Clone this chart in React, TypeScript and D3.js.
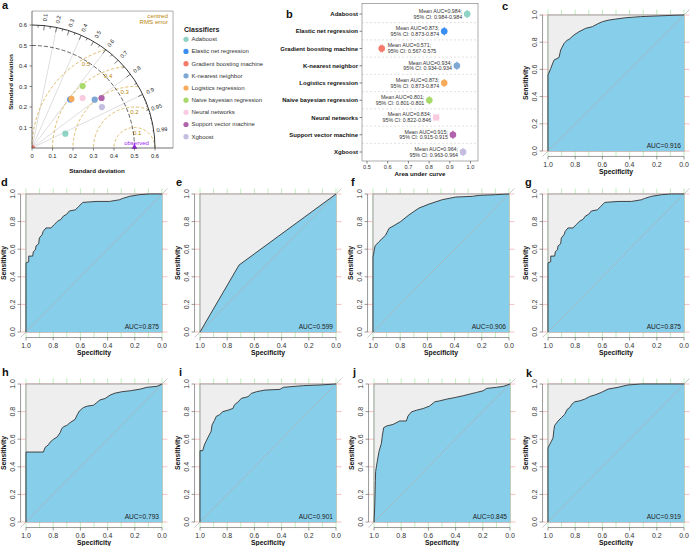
import React from "react";
import * as d3 from "d3";

const FONT = "'Liberation Sans', Arial, Helvetica, sans-serif";

// ---- panel a / b data ----
const classifiers = [
  "Adaboost",
  "Elastic net regression",
  "Gradient boosting machine",
  "K-nearest neighbor",
  "Logistics regression",
  "Naive bayesian regression",
  "Neural networks",
  "Support vector machine",
  "Xgboost",
];
const classifierColors = [
  "#8fd3c4", "#3a8ef2", "#f47a6c", "#7ea7d3", "#f6ac5c",
  "#a8d96c", "#f8cbe1", "#b062ab", "#c4bde0",
];
// Taylor diagram: standard deviation and correlation of each model
const taylorSd = [0.177, 0.302, 0.0, 0.386, 0.307, 0.39, 0.347, 0.418, 0.395];
const taylorCorr = [0.919, 0.619, 0.707, 0.792, 0.626, 0.633, 0.711, 0.812, 0.863];
const obsSd = 0.5;
const sdTicks = [0, 0.1, 0.2, 0.3, 0.4, 0.5, 0.6];
const corrLabels = [0.1, 0.2, 0.3, 0.4, 0.5, 0.6, 0.7, 0.8, 0.9, 0.95, 0.99];
const corrLines = [0.2, 0.4, 0.6, 0.8, 0.9];
const rmsLevels = [0.1, 0.2, 0.3, 0.4, 0.5];

// forest plot of mean AUC
const meanAuc = [0.984, 0.873, 0.571, 0.934, 0.873, 0.801, 0.834, 0.915, 0.964];
const ciLow = [0.984, 0.873, 0.567, 0.934, 0.873, 0.801, 0.822, 0.915, 0.963];
const ciHigh = [0.984, 0.874, 0.575, 0.934, 0.874, 0.801, 0.846, 0.915, 0.964];
const aucTicks = [0.5, 0.6, 0.7, 0.8, 0.9, 1.0];

// ---- ROC curves, [specificity, sensitivity] ----
const rocC = [
  [1, 0], [1, 0.558], [0.98, 0.607], [0.956, 0.668], [0.919, 0.688], [0.907, 0.742],
  [0.882, 0.791], [0.858, 0.816], [0.846, 0.82], [0.809, 0.853], [0.772, 0.877],
  [0.723, 0.902], [0.674, 0.914], [0.637, 0.934], [0.6, 0.951], [0.551, 0.963],
  [0.502, 0.97], [0.429, 0.98], [0.319, 0.988], [0.196, 0.993], [0.074, 0.998], [0, 1],
];
const rocD = [
  [1, 0], [1, 0.501], [0.98, 0.509], [0.98, 0.55], [0.951, 0.55], [0.946, 0.582],
  [0.931, 0.595], [0.926, 0.624], [0.907, 0.639], [0.902, 0.681], [0.882, 0.705],
  [0.873, 0.73], [0.853, 0.754], [0.816, 0.754], [0.792, 0.779], [0.767, 0.803],
  [0.743, 0.816], [0.725, 0.84], [0.701, 0.853], [0.681, 0.877], [0.637, 0.885],
  [0.613, 0.909], [0.583, 0.939], [0.485, 0.946], [0.387, 0.946], [0.314, 0.958],
  [0.289, 0.968], [0.24, 0.983], [0.167, 0.995], [0.093, 1], [0, 1],
];
const rocE = [[1, 0], [0.713, 0.485], [0, 1]];
const rocF = [
  [1, 0], [1, 0.544], [0.985, 0.624], [0.956, 0.654], [0.907, 0.702], [0.882, 0.751],
  [0.846, 0.771], [0.797, 0.8], [0.735, 0.849], [0.662, 0.898], [0.588, 0.927],
  [0.49, 0.959], [0.392, 0.978], [0.27, 0.983], [0.22, 0.99], [0.098, 0.995], [0, 1],
];
const rocG = rocD;
const rocH = [
  [1, 0], [1, 0.507], [0.872, 0.507], [0.86, 0.54], [0.835, 0.56], [0.823, 0.578],
  [0.8, 0.598], [0.77, 0.617], [0.75, 0.646], [0.737, 0.676], [0.725, 0.69], [0.7, 0.7],
  [0.676, 0.72], [0.639, 0.744], [0.622, 0.78], [0.607, 0.805], [0.577, 0.83],
  [0.548, 0.84], [0.504, 0.846], [0.479, 0.866], [0.455, 0.885], [0.418, 0.895],
  [0.381, 0.92], [0.344, 0.934], [0.295, 0.944], [0.233, 0.951], [0.16, 0.963],
  [0.111, 0.976], [0.037, 0.983], [0, 1],
];
const rocI = [
  [1, 0], [1, 0.517], [0.98, 0.517], [0.968, 0.558], [0.956, 0.583], [0.936, 0.624],
  [0.919, 0.655], [0.911, 0.704], [0.894, 0.735], [0.881, 0.765], [0.857, 0.777],
  [0.832, 0.8], [0.795, 0.81], [0.758, 0.823], [0.746, 0.85], [0.72, 0.87],
  [0.696, 0.896], [0.647, 0.908], [0.622, 0.932], [0.585, 0.944], [0.523, 0.956],
  [0.412, 0.961], [0.388, 0.976], [0.24, 0.988], [0.116, 0.993], [0, 1],
];
const rocJ = [
  [1, 0], [0.995, 0.1], [0.99, 0.3], [0.988, 0.366], [0.978, 0.427], [0.963, 0.512],
  [0.946, 0.568], [0.939, 0.622], [0.929, 0.683], [0.909, 0.695], [0.86, 0.707],
  [0.811, 0.732], [0.762, 0.732], [0.75, 0.768], [0.725, 0.798], [0.688, 0.81],
  [0.639, 0.822], [0.59, 0.841], [0.553, 0.871], [0.516, 0.878], [0.467, 0.89],
  [0.405, 0.902], [0.344, 0.915], [0.295, 0.927], [0.246, 0.939], [0.197, 0.951],
  [0.172, 0.968], [0.098, 0.976], [0.049, 0.983], [0, 1],
];
const rocK = [
  [1, 0], [1, 0.537], [0.988, 0.561], [0.975, 0.585], [0.963, 0.61], [0.956, 0.671],
  [0.951, 0.7], [0.926, 0.732], [0.902, 0.756], [0.877, 0.78], [0.858, 0.817],
  [0.841, 0.829], [0.824, 0.854], [0.804, 0.871], [0.767, 0.878], [0.73, 0.89],
  [0.694, 0.909], [0.657, 0.92], [0.608, 0.939], [0.559, 0.963], [0.485, 0.976],
  [0.412, 0.993], [0.314, 1], [0, 1],
];
const rocAuc = ["0.916", "0.875", "0.599", "0.906", "0.875", "0.793", "0.901", "0.845", "0.919"];

const rocPanels = [
  { letter: "c", points: rocC, left: 548, top: 15, h: 136, lx: 502, ly: 10 },
  { letter: "d", points: rocD, left: 26, top: 194, h: 138, lx: 1, ly: 186 },
  { letter: "e", points: rocE, left: 200, top: 194, h: 138, lx: 176, ly: 186 },
  { letter: "f", points: rocF, left: 373, top: 194, h: 138, lx: 351, ly: 186 },
  { letter: "g", points: rocG, left: 548, top: 194, h: 138, lx: 525, ly: 186 },
  { letter: "h", points: rocH, left: 26, top: 384, h: 138, lx: 2, ly: 376 },
  { letter: "i", points: rocI, left: 200, top: 384, h: 138, lx: 179, ly: 376 },
  { letter: "j", points: rocJ, left: 374, top: 384, h: 138, lx: 353, ly: 376 },
  { letter: "k", points: rocK, left: 548, top: 384, h: 138, lx: 526, ly: 377 },
];

function Letter({ x, y, t }) {
  return (
    <text x={x} y={y} fontSize={11} fontWeight="bold" fill="#111">{t}</text>
  );
}

function RocPanel({ points, auc, letter, left, top, h, lx, ly }) {
  const w = 136;
  const x = d3.scaleLinear().domain([1, 0]).range([left, left + w]);
  const y = d3.scaleLinear().domain([0, 1]).range([top + h, top]);
  const line = d3.line().x((d) => x(d[0])).y((d) => y(d[1]));
  const x0 = x(1.04), x1 = x(-0.04), y0 = y(-0.04), y1 = y(1.04);
  const fmt = d3.format(".1f");
  return (
    <g>
      {x.ticks(10).map((t) => (
        <line key={"v" + t} x1={x(t)} x2={x(t)} y1={y0} y2={y1} stroke="#a4e6a4" strokeWidth={0.7} />
      ))}
      {y.ticks(5).map((t) => (
        <line key={"h" + t} x1={x0} x2={x1} y1={y(t)} y2={y(t)} stroke="#f3a8a8" strokeWidth={0.7} />
      ))}
      <rect x={x(1)} y={y(1)} width={x(0) - x(1)} height={y(0) - y(1)} fill="#eeeeee" stroke="#8c8c8c" strokeWidth={0.8} />
      <path d={line([...points, [0, 0]]) + "Z"} fill="#87ceeb" />
      <line x1={x0} y1={y0} x2={x1} y2={y1} stroke="#b0b0b0" strokeWidth={0.7} />
      <path d={line(points)} fill="none" stroke="#333" strokeWidth={0.9} />
      {/* axes */}
      <line x1={x0} x2={x0} y1={y(0)} y2={y(1)} stroke="#555" strokeWidth={0.6} />
      {y.ticks(5).map((t) => (
        <g key={"yt" + t}>
          <line x1={x0} x2={x0 - 3} y1={y(t)} y2={y(t)} stroke="#555" strokeWidth={0.6} />
          <text x={x0 - 8} y={y(t)} transform={`rotate(-90 ${x0 - 8} ${y(t)})`} textAnchor="middle" dominantBaseline="central" fontSize={7} fill="#333">{fmt(t)}</text>
        </g>
      ))}
      <line x1={x(1)} x2={x(0)} y1={y0} y2={y0} stroke="#555" strokeWidth={0.6} />
      {x.ticks(5).map((t) => (
        <g key={"xt" + t}>
          <line x1={x(t)} x2={x(t)} y1={y0} y2={y0 + 3} stroke="#555" strokeWidth={0.6} />
          <text x={x(t)} y={y0 + 8.3} textAnchor="middle" dominantBaseline="central" fontSize={7} fill="#333">{fmt(t)}</text>
        </g>
      ))}
      <text x={left - 22.5} y={top + h / 2} transform={`rotate(-90 ${left - 22.5} ${top + h / 2})`} textAnchor="middle" dominantBaseline="central" fontSize={6.8} fontWeight="bold" fill="#111">Sensitivity</text>
      <text x={left + w / 2} y={top + h + 20} textAnchor="middle" dominantBaseline="central" fontSize={6.8} fontWeight="bold" fill="#111">Specificity</text>
      <text x={left + w - 3} y={top + h - 3.5} textAnchor="end" fontSize={6.6} fill="#222">AUC={auc}</text>
      <Letter x={lx} y={ly} t={letter} />
    </g>
  );
}

function TaylorPanel() {
  const ox = 32, oy = 148;
  const s = d3.scaleLinear().domain([0, 0.6]).range([0, 123]);
  const P = (sx, sy) => [ox + s(sx), oy - s(sy)];
  const arc = (r) => {
    const p = d3.path();
    p.moveTo(ox, oy - s(r));
    p.arc(ox, oy, s(r), -Math.PI / 2, 0);
    return p.toString();
  };
  const rmsLine = d3.line().x((d) => P(d[0], d[1])[0]).y((d) => P(d[0], d[1])[1]);
  const rmsPath = (r) => {
    const pts = d3.range(0, 180.01, 0.5)
      .map((a) => [obsSd + r * Math.cos((a * Math.PI) / 180), r * Math.sin((a * Math.PI) / 180)])
      .filter((d) => Math.hypot(d[0], d[1]) <= 0.6001);
    return rmsLine(pts);
  };
  const right = ox + s(0.688), topY = oy - s(0.668);
  const gold = "#b8860b";
  const tick = (c, inner) => {
    const a = Math.acos(c);
    const [xa, ya] = P(0.6 * Math.cos(a), 0.6 * Math.sin(a));
    const [xb, yb] = P(inner * Math.cos(a), inner * Math.sin(a));
    return <line key={"tk" + c + inner} x1={xa} y1={ya} x2={xb} y2={yb} stroke="#222" strokeWidth={0.6} />;
  };
  return (
    <g>
      <defs>
        <clipPath id="taylorClip">
          <rect x={ox} y={topY} width={right - ox} height={oy - topY} />
        </clipPath>
      </defs>
      <Letter x={2} y={9} t="a" />
      <line x1={ox} x2={right} y1={topY} y2={topY} stroke="#9a9a9a" strokeWidth={0.8} />
      <line x1={right} x2={right} y1={topY} y2={oy} stroke="#9a9a9a" strokeWidth={0.8} />
      {corrLines.map((c) => {
        const a = Math.acos(c);
        const [xe, ye] = P(0.6 * Math.cos(a), 0.6 * Math.sin(a));
        return <line key={"cl" + c} x1={ox} y1={oy} x2={xe} y2={ye} stroke="#c8c8c8" strokeWidth={0.6} />;
      })}
      {rmsLevels.map((r) => (
        <path key={"rms" + r} d={rmsPath(r)} fill="none" stroke="#d2a33a" strokeWidth={0.8} strokeDasharray="3,2" />
      ))}
      {rmsLevels.map((r) => {
        const a = ((80 + (r - 0.1) * 100) * Math.PI) / 180;
        const [tx, ty] = P(obsSd + (r - 0.025) * Math.cos(a), (r - 0.025) * Math.sin(a));
        return <text key={"rl" + r} x={tx} y={ty} textAnchor="middle" dominantBaseline="central" fontSize={6} fill={gold}>{r.toFixed(1)}</text>;
      })}
      <path d={arc(obsSd)} fill="none" stroke="#222" strokeWidth={0.7} strokeDasharray="4,2" />
      <path d={arc(0.6)} fill="none" stroke="#222" strokeWidth={0.9} />
      {d3.range(1, 10).map((i) => tick(i / 10, 0.576))}
      {d3.range(0, 10).map((i) => tick(0.05 + i / 10, 0.588))}
      {d3.range(1, 10).map((i) => tick(0.9 + i / 100, 0.594))}
      {corrLabels.map((c) => {
        const a = Math.acos(c);
        const [tx, ty] = P(0.64 * Math.cos(a), 0.64 * Math.sin(a));
        const deg = (a * 180) / Math.PI;
        return <text key={"cx" + c} x={tx} y={ty} transform={`rotate(${-deg} ${tx} ${ty})`} textAnchor="middle" dominantBaseline="central" fontSize={5.6} fill="#222">{c}</text>;
      })}
      {/* observed */}
      <path d={d3.symbol(d3.symbolTriangle, 14)()} transform={`translate(${P(obsSd, 0)[0]},${oy - 1})`} fill="#a020f0" />
      <text x={P(obsSd, 0)[0] + 2} y={143.3} textAnchor="middle" dominantBaseline="central" fontSize={6} fill="#a020f0">observed</text>
      <g clipPath="url(#taylorClip)">
        {classifiers.map((c, i) => {
          const a = Math.acos(taylorCorr[i]);
          const [px, py] = P(taylorSd[i] * Math.cos(a), taylorSd[i] * Math.sin(a));
          return <circle key={"tp" + c} cx={px} cy={py} r={3.1} fill={classifierColors[i]} />;
        })}
      </g>
      {/* axes */}
      <line x1={ox} x2={ox} y1={oy} y2={topY} stroke="#333" strokeWidth={0.7} />
      <line x1={ox} x2={right} y1={oy} y2={oy} stroke="#333" strokeWidth={0.7} />
      {sdTicks.map((t) => (
        <g key={"sx" + t}>
          <line x1={ox + s(t)} x2={ox + s(t)} y1={oy} y2={oy + 2.5} stroke="#333" strokeWidth={0.6} />
          <text x={ox + s(t)} y={oy + 7.5} textAnchor="middle" dominantBaseline="central" fontSize={5.8} fill="#222">{t === 0 ? "0" : t.toFixed(1)}</text>
        </g>
      ))}
      {sdTicks.filter((t) => t > 0).map((t) => (
        <g key={"sy" + t}>
          <line x1={ox} x2={ox - 2.5} y1={oy - s(t)} y2={oy - s(t)} stroke="#333" strokeWidth={0.6} />
          <text x={ox - 5} y={oy - s(t)} textAnchor="end" dominantBaseline="central" fontSize={5.8} fill="#222">{t.toFixed(1)}</text>
        </g>
      ))}
      <text x={10} y={82} transform="rotate(-90 10 82)" textAnchor="middle" dominantBaseline="central" fontSize={6.2} fontWeight="bold" fill="#111">Standard deviation</text>
      <text x={97} y={170.5} textAnchor="middle" dominantBaseline="central" fontSize={6.2} fontWeight="bold" fill="#111">Standard deviation</text>
      <text x={168} y={15} textAnchor="end" dominantBaseline="central" fontSize={6.2} fill={gold}>centred</text>
      <text x={168} y={21.7} textAnchor="end" dominantBaseline="central" fontSize={6.2} fill={gold}>RMS error</text>
      {/* legend */}
      <text x={184} y={29.3} dominantBaseline="central" fontSize={7} fontWeight="bold" fill="#222">Classifiers</text>
      {classifiers.map((c, i) => (
        <g key={"lg" + c}>
          <circle cx={186} cy={39.3 + i * 12.17} r={2.6} fill={classifierColors[i]} />
          <text x={191.5} y={39.3 + i * 12.17} dominantBaseline="central" fontSize={6} fill="#333">{c}</text>
        </g>
      ))}
    </g>
  );
}

function ForestPanel() {
  const x = d3.scaleLinear().domain([0.4758, 1.0362]).range([362, 478]);
  const y = d3.scalePoint().domain(classifiers).range([14, 152]);
  const top = 3.5, bottom = 161;
  const step = y.step();
  return (
    <g>
      <Letter x={286} y={18} t="b" />
      {classifiers.slice(1).map((c) => (
        <line key={"sep" + c} x1={362} x2={478} y1={y(c) - step / 2} y2={y(c) - step / 2} stroke="#cfcfcf" strokeWidth={0.6} strokeDasharray="2,2" />
      ))}
      <rect x={362} y={top} width={116} height={bottom - top} fill="none" stroke="#9a9a9a" strokeWidth={0.8} />
      {classifiers.map((c, i) => {
        const cy = y(c);
        const cx = x(meanAuc[i]);
        const left = x(meanAuc[i]) - 55 < 362;
        const tx = left ? cx + 6 : cx - 5;
        const anchor = left ? "start" : "end";
        return (
          <g key={"fr" + c}>
            <line x1={359.5} x2={362} y1={cy} y2={cy} stroke="#333" strokeWidth={0.6} />
            <text x={358} y={cy} textAnchor="end" dominantBaseline="central" fontSize={6} fontWeight="bold" fill="#111">{c}</text>
            <line x1={x(ciLow[i])} x2={x(ciHigh[i])} y1={cy} y2={cy} stroke={classifierColors[i]} strokeWidth={0.8} />
            <line x1={x(ciLow[i])} x2={x(ciLow[i])} y1={cy - 4} y2={cy + 4} stroke={classifierColors[i]} strokeWidth={0.8} />
            <line x1={x(ciHigh[i])} x2={x(ciHigh[i])} y1={cy - 4} y2={cy + 4} stroke={classifierColors[i]} strokeWidth={0.8} />
            <circle cx={cx} cy={cy} r={3.3} fill={classifierColors[i]} />
            <text x={tx} y={cy - 3.2} textAnchor={anchor} dominantBaseline="central" fontSize={5.3} fill="#333">{`Mean AUC=${meanAuc[i].toFixed(3)};`}</text>
            <text x={tx} y={cy + 2.5} textAnchor={anchor} dominantBaseline="central" fontSize={5.3} fill="#333">{`95% CI: ${ciLow[i].toFixed(3)}-${ciHigh[i].toFixed(3)}`}</text>
          </g>
        );
      })}
      {aucTicks.map((t) => (
        <g key={"ax" + t}>
          <line x1={x(t)} x2={x(t)} y1={bottom} y2={bottom + 2.5} stroke="#333" strokeWidth={0.6} />
          <text x={x(t)} y={bottom + 6} textAnchor="middle" dominantBaseline="central" fontSize={5.6} fill="#333">{t.toFixed(1)}</text>
        </g>
      ))}
      <text x={420} y={bottom + 12.5} textAnchor="middle" dominantBaseline="central" fontSize={6.2} fontWeight="bold" fill="#111">Area under curve</text>
    </g>
  );
}

export default function App() {
  return (
    <svg width={690} height={546} style={{ position: "absolute", left: 0, top: 0, background: "#fff" }} fontFamily={FONT}>
      <rect width={690} height={546} fill="#fff" />
      <TaylorPanel />
      <ForestPanel />
      {rocPanels.map((p, i) => (
        <RocPanel key={p.letter} {...p} auc={rocAuc[i]} />
      ))}
    </svg>
  );
}
